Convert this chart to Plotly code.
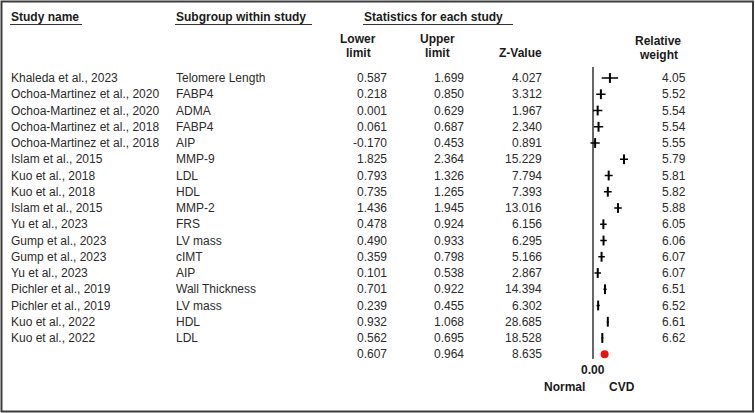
import plotly.graph_objects as go

# ---------------- data ----------------
studies = [
    "Khaleda et al., 2023", "Ochoa-Martinez et al., 2020", "Ochoa-Martinez et al., 2020",
    "Ochoa-Martinez et al., 2018", "Ochoa-Martinez et al., 2018", "Islam et al., 2015",
    "Kuo et al., 2018", "Kuo et al., 2018", "Islam et al., 2015", "Yu et al., 2023",
    "Gump et al., 2023", "Gump et al., 2023", "Yu et al., 2023", "Pichler et al., 2019",
    "Pichler et al., 2019", "Kuo et al., 2022", "Kuo et al., 2022",
]
subgroups = [
    "Telomere Length", "FABP4", "ADMA", "FABP4", "AIP", "MMP-9", "LDL", "HDL", "MMP-2",
    "FRS", "LV mass", "cIMT", "AIP", "Wall Thickness", "LV mass", "HDL", "LDL",
]
lower_txt = ["0.587", "0.218", "0.001", "0.061", "-0.170", "1.825", "0.793", "0.735", "1.436",
             "0.478", "0.490", "0.359", "0.101", "0.701", "0.239", "0.932", "0.562"]
upper_txt = ["1.699", "0.850", "0.629", "0.687", "0.453", "2.364", "1.326", "1.265", "1.945",
             "0.924", "0.933", "0.798", "0.538", "0.922", "0.455", "1.068", "0.695"]
z_txt = ["4.027", "3.312", "1.967", "2.340", "0.891", "15.229", "7.794", "7.393", "13.016",
         "6.156", "6.295", "5.166", "2.867", "14.394", "6.302", "28.685", "18.528"]
weight_txt = ["4.05", "5.52", "5.54", "5.54", "5.55", "5.79", "5.81", "5.82", "5.88",
              "6.05", "6.06", "6.07", "6.07", "6.51", "6.52", "6.61", "6.62"]
effects = [1.143, 0.534, 0.315, 0.374, 0.142, 2.095, 1.060, 1.000, 1.691,
           0.701, 0.712, 0.579, 0.320, 0.812, 0.347, 1.000, 0.629]

summary_lower_txt = "0.607"
summary_upper_txt = "0.964"
summary_z_txt = "8.635"
summary_effect = 0.786

lower = [float(v) for v in lower_txt]
upper = [float(v) for v in upper_txt]

# ---------------- geometry ----------------
W, H = 755, 413
PX_PER_UNIT = 14.8
ZERO_PX = 593
ROW0_PX = 78
ROW_H = 16.25

FONT = "Liberation Sans, Arial, sans-serif"
BODY = "#2b2b2b"
HEAD = "#1a1a1a"
FS = 12


def px(x):
    return x / W


def py(y):
    return 1 - y / H


def row_of(ypx):
    return (ypx - ROW0_PX) / ROW_H


fig = go.Figure()
n = len(studies)
rows = list(range(n))

# confidence intervals
cx, cy = [], []
for i in rows:
    cx += [lower[i], upper[i], None]
    cy += [i, i, None]
fig.add_trace(go.Scatter(x=cx, y=cy, mode="lines",
                         line=dict(color="black", width=1.5), hoverinfo="skip"))
# point estimates
fig.add_trace(go.Scatter(x=effects, y=rows, mode="markers",
                         marker=dict(symbol="line-ns", size=7,
                                     line=dict(color="black", width=2)),
                         hoverinfo="skip"))
# summary
fig.add_trace(go.Scatter(x=[summary_effect], y=[n], mode="markers",
                         marker=dict(symbol="circle", size=8, color="#ee1111"),
                         hoverinfo="skip"))

annotations = []


def txt(x, y, s, anchor="left", bold=False, yref="y", xref="paper", size=FS, color=None):
    annotations.append(dict(
        x=x, y=y, xref=xref, yref=yref, text=f"<b>{s}</b>" if bold else s,
        showarrow=False, xanchor=anchor, yanchor="middle", borderpad=0,
        font=dict(family=FONT, size=size, color=color or (HEAD if bold else BODY)),
    ))


# headers
txt(px(10), py(17), "Study name", bold=True, yref="paper")
txt(px(175), py(17), "Subgroup within study", bold=True, yref="paper")
txt(px(363), py(17), "Statistics for each study", bold=True, yref="paper")
txt(px(358), py(39), "Lower", "center", True, "paper")
txt(px(358), py(53), "limit", "center", True, "paper")
txt(px(437), py(39), "Upper", "center", True, "paper")
txt(px(437), py(53), "limit", "center", True, "paper")
txt(px(520), py(53), "Z-Value", "center", True, "paper")
txt(px(658), py(41), "Relative", "center", True, "paper")
txt(px(658), py(55), "weight", "center", True, "paper")

# rows
for i in rows:
    txt(px(10), i, studies[i])
    txt(px(175), i, subgroups[i])
    txt(px(388), i, lower_txt[i], "right")
    txt(px(465), i, upper_txt[i], "right")
    txt(px(543), i, z_txt[i], "right")
    txt(px(687), i, weight_txt[i], "right")

txt(px(388), n, summary_lower_txt, "right")
txt(px(465), n, summary_upper_txt, "right")
txt(px(543), n, summary_z_txt, "right")

# axis labels
txt(0, py(370), "0.00", "center", True, "paper", "x")
txt(px(564), py(387), "Normal", "center", True, "paper")
txt(px(622), py(387), "CVD", "center", True, "paper")

shapes = [
    # frame
    dict(type="rect", xref="paper", yref="paper", x0=px(1.5), x1=px(753), y0=py(1.5), y1=py(411.5),
         line=dict(color="#3c3c3c", width=2), fillcolor="rgba(0,0,0,0)"),
    # header underlines
    dict(type="line", xref="paper", yref="paper", x0=px(10), x1=px(82), y0=py(24.5), y1=py(24.5),
         line=dict(color="#333", width=1.2)),
    dict(type="line", xref="paper", yref="paper", x0=px(175), x1=px(312), y0=py(24.5), y1=py(24.5),
         line=dict(color="#333", width=1.2)),
    dict(type="line", xref="paper", yref="paper", x0=px(363), x1=px(513), y0=py(24.5), y1=py(24.5),
         line=dict(color="#333", width=1.2)),
    # zero line
    dict(type="line", xref="x", yref="y", x0=0, x1=0, y0=row_of(67), y1=row_of(359),
         line=dict(color="black", width=1.2)),
]

fig.update_layout(
    width=W, height=H,
    margin=dict(l=0, r=0, t=0, b=0),
    paper_bgcolor="white", plot_bgcolor="white",
    showlegend=False,
    xaxis=dict(range=[(0 - ZERO_PX) / PX_PER_UNIT, (W - ZERO_PX) / PX_PER_UNIT],
               visible=False, fixedrange=True),
    yaxis=dict(range=[row_of(H), row_of(0)], visible=False, fixedrange=True),
    annotations=annotations,
    shapes=shapes,
)

fig.write_html("out.html")
